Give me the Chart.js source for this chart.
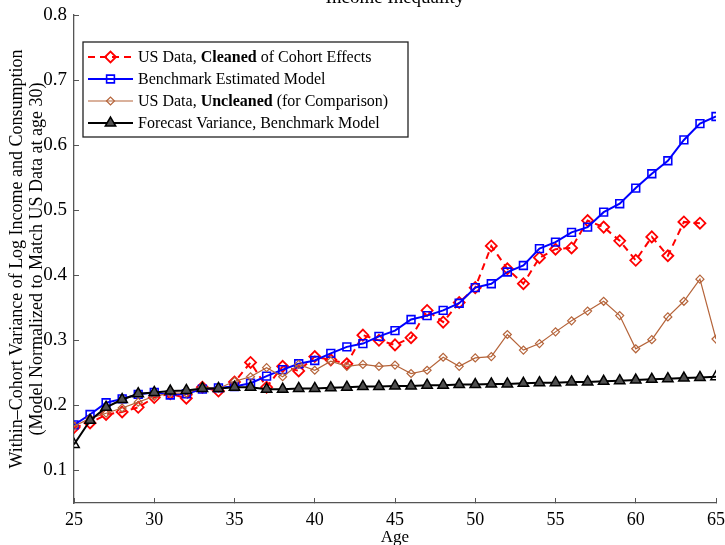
<!DOCTYPE html>
<html>
<head>
<meta charset="utf-8">
<script src="https://cdn.jsdelivr.net/npm/chart.js@4"></script>
<style>
  html, body { margin: 0; padding: 0; background: #fff; }
  #wrap { width: 725px; height: 545px; }
</style>
</head>
<body>
<div id="wrap"><canvas id="chart"></canvas></div>
<script>
// ages on the x axis
const ages = [25,26,27,28,29,30,31,32,33,34,35,36,37,38,39,40,41,42,43,44,45,
              46,47,48,49,50,51,52,53,54,55,56,57,58,59,60,61,62,63,64,65];
// US data, cleaned of cohort effects (no value at 65)
const cleaned = [0.166,0.173,0.186,0.190,0.197,0.212,0.218,0.211,0.228,0.222,0.236,
                 0.266,0.228,0.260,0.253,0.275,0.270,0.264,0.308,0.300,0.293,
                 0.304,0.346,0.328,0.358,0.381,0.445,0.410,0.387,0.427,0.440,
                 0.442,0.484,0.474,0.453,0.423,0.459,0.430,0.482,0.480,null];
// benchmark estimated model
const model = [0.170,0.186,0.204,0.210,0.217,0.220,0.216,0.218,0.225,0.227,0.229,
               0.234,0.245,0.255,0.264,0.269,0.280,0.290,0.295,0.306,0.315,
               0.332,0.338,0.346,0.357,0.381,0.387,0.405,0.415,0.441,0.451,
               0.466,0.474,0.497,0.510,0.534,0.556,0.576,0.608,0.633,0.644];
// US data, uncleaned
const uncleaned = [0.168,0.180,0.188,0.196,0.205,0.214,0.219,0.219,0.228,0.226,0.237,
                   0.244,0.258,0.244,0.263,0.254,0.268,0.260,0.263,0.260,0.262,
                   0.249,0.254,0.274,0.260,0.273,0.275,0.309,0.285,0.295,0.313,
                   0.330,0.345,0.360,0.338,0.287,0.301,0.336,0.360,0.394,0.302];
// forecast variance, benchmark model
const forecast = [0.140,0.177,0.197,0.209,0.218,0.220,0.222,0.223,0.226,0.226,0.228,
                  0.228,0.225,0.225,0.226,0.226,0.227,0.228,0.229,0.229,0.230,
                  0.230,0.231,0.231,0.232,0.232,0.233,0.233,0.234,0.235,0.235,
                  0.236,0.236,0.237,0.238,0.239,0.240,0.241,0.242,0.243,0.244];

const xTicks = [25,30,35,40,45,50,55,60,65];
const yTicks = [0.1,0.2,0.3,0.4,0.5,0.6,0.7,0.8];

const SERIF = '"Liberation Serif", "Times New Roman", serif';
const AXIS = '#555';

function pts(vals) {
  return ages.map((a, i) => ({x: a, y: vals[i]}));
}

const series = [
  {
    label: [['US Data, ', false], ['Cleaned', true], [' of Cohort Effects', false]],
    data: pts(cleaned),
    borderColor: '#ff0000',
    borderWidth: 2,
    borderDash: [7, 5],
    pointStyle: 'rectRot',
    pointRadius: 5.5,
    pointBorderWidth: 1.8,
    pointBackgroundColor: 'rgba(0,0,0,0)',
    order: 3,
  },
  {
    label: [['Benchmark Estimated Model', false]],
    data: pts(model),
    borderColor: '#0000ff',
    borderWidth: 2,
    pointStyle: 'rect',
    pointRadius: 5.5,
    pointBorderWidth: 1.6,
    pointBackgroundColor: 'rgba(0,0,0,0)',
    order: 2,
  },
  {
    label: [['US Data, ', false], ['Uncleaned', true], [' (for Comparison)', false]],
    data: pts(uncleaned),
    borderColor: '#b5643a',
    borderWidth: 1.2,
    pointStyle: 'rectRot',
    pointRadius: 4,
    pointBorderWidth: 1.2,
    pointBackgroundColor: 'rgba(0,0,0,0)',
    order: 1,
  },
  {
    label: [['Forecast Variance, Benchmark Model', false]],
    data: pts(forecast),
    borderColor: '#000000',
    borderWidth: 2,
    pointStyle: 'triangle',
    pointRadius: 6,
    pointBorderWidth: 1.5,
    pointBackgroundColor: c => (c.dataIndex === 0 || c.dataIndex === ages.length - 1) ? 'rgba(0,0,0,0)' : '#505050',
    legendFill: '#505050',
    order: 0,
  },
];

// legend drawn inside the plot, with bold words
const boxLegend = {
  id: 'boxLegend',
  afterDraw(chart) {
    const ctx = chart.ctx;
    const area = chart.chartArea;
    const left = area.left + 9, top = area.top + 27;
    const w = 325, h = 95;
    ctx.save();
    ctx.fillStyle = '#fff';
    ctx.fillRect(left, top, w, h);
    ctx.strokeStyle = '#222';
    ctx.lineWidth = 1.3;
    ctx.strokeRect(left, top, w, h);
    series.forEach((s, i) => {
      const y = top + 15 + i * 22;
      const x0 = left + 5, x1 = left + 50;
      ctx.save();
      ctx.strokeStyle = s.borderColor;
      ctx.lineWidth = s.borderWidth;
      ctx.setLineDash(s.borderDash || []);
      ctx.beginPath();
      ctx.moveTo(x0, y);
      ctx.lineTo(x1, y);
      ctx.stroke();
      ctx.restore();
      ctx.save();
      ctx.strokeStyle = s.borderColor;
      ctx.lineWidth = s.pointBorderWidth;
      ctx.fillStyle = s.legendFill || 'rgba(0,0,0,0)';
      Chart.helpers.drawPoint(ctx, {pointStyle: s.pointStyle, radius: s.pointRadius, rotation: 0,
                                    borderWidth: s.pointBorderWidth}, (x0 + x1) / 2, y);
      ctx.restore();
      let tx = left + 55;
      ctx.fillStyle = '#000';
      ctx.textBaseline = 'middle';
      s.label.forEach(([txt, bold]) => {
        ctx.font = (bold ? 'bold ' : '') + '16px ' + SERIF;
        ctx.fillText(txt, tx, y + 1);
        tx += ctx.measureText(txt).width;
      });
    });
    ctx.restore();
  }
};

// chart title, partly above the top edge
const topTitle = {
  id: 'topTitle',
  afterDraw(chart) {
    const ctx = chart.ctx;
    const area = chart.chartArea;
    ctx.save();
    ctx.font = '19px ' + SERIF;
    ctx.fillStyle = '#000';
    ctx.textAlign = 'center';
    ctx.textBaseline = 'alphabetic';
    ctx.fillText('Income Inequality', (area.left + area.right) / 2, 3);
    ctx.restore();
  }
};

new Chart(document.getElementById('chart'), {
  type: 'line',
  data: {
    datasets: series.map(s => ({
      label: s.label.map(p => p[0]).join(''),
      data: s.data,
      borderColor: s.borderColor,
      borderWidth: s.borderWidth,
      borderDash: s.borderDash || [],
      pointStyle: s.pointStyle,
      pointRadius: s.pointRadius,
      pointBorderWidth: s.pointBorderWidth,
      pointBorderColor: s.borderColor,
      pointBackgroundColor: s.pointBackgroundColor,
      fill: false,
      tension: 0,
      order: s.order,
    })),
  },
  options: {
    responsive: true,
    maintainAspectRatio: false,
    animation: false,
    devicePixelRatio: 1,
    layout: { padding: { top: 15, right: 9, left: 0, bottom: 0 } },
    plugins: {
      legend: { display: false },
      tooltip: { enabled: false },
    },
    scales: {
      x: {
        type: 'linear',
        min: 25,
        max: 65,
        afterBuildTicks: s => { s.ticks = xTicks.map(v => ({value: v})); },
        afterFit: s => { s.height = 42; s.paddingLeft = 0; s.paddingRight = 0; },
        grid: { display: true, drawOnChartArea: false, drawTicks: true, tickLength: -5, tickColor: AXIS, lineWidth: 1 },
        border: { display: true, color: AXIS, width: 1.3 },
        ticks: { font: { family: SERIF, size: 18 }, color: '#000', padding: 11, maxRotation: 0, autoSkip: false },
        title: { display: true, text: 'Age', color: '#000', font: { family: SERIF, size: 17 }, padding: { top: 0, bottom: -3 } },
      },
      y: {
        type: 'linear',
        min: 0.05,
        max: 0.8,
        afterBuildTicks: s => { s.ticks = yTicks.map(v => ({value: v})); },
        afterFit: s => { s.width = 74; s.paddingTop = 0; s.paddingBottom = 0; },
        grid: { display: true, drawOnChartArea: false, drawTicks: true, tickLength: -5, tickColor: AXIS, lineWidth: 1 },
        border: { display: true, color: AXIS, width: 1.3 },
        ticks: { font: { family: SERIF, size: 19 }, color: '#000', padding: 12, callback: v => v.toFixed(1) },
        title: {
          display: true,
          text: ['Within\u2013Cohort Variance of Log Income and Consumption',
                 '(Model Normalized to Match US Data at age 30)'],
          color: '#000',
          font: { family: SERIF, size: 18, lineHeight: 1.11 },
          padding: { top: 7, bottom: 0 },
        },
      },
    },
  },
  plugins: [boxLegend, topTitle],
});
</script>
</body>
</html>
